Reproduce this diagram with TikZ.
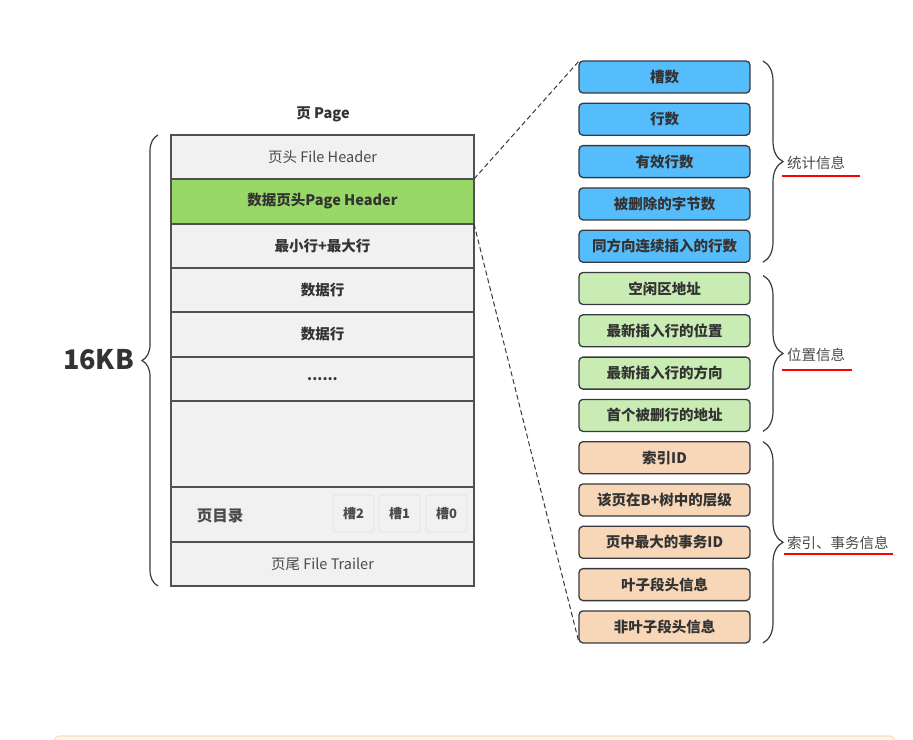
\documentclass[tikz,border=0pt]{standalone}
\usepackage{fontspec}
\setmainfont{Noto Sans CJK SC}
\usetikzlibrary{decorations.pathreplacing}
\definecolor{rowfill}{HTML}{F1F1F1}
\definecolor{rowline}{HTML}{505050}
\definecolor{phgreen}{HTML}{97D866}
\definecolor{blueF}{HTML}{56BDFD}
\definecolor{greenF}{HTML}{C9EBB4}
\definecolor{orangeF}{HTML}{F8D6B8}
\definecolor{boxline}{HTML}{36393D}
\definecolor{txt}{HTML}{333333}
\definecolor{labtxt}{HTML}{4A4A4A}
\definecolor{slotline}{HTML}{E2E2E2}
\definecolor{noteF}{HTML}{FFF9F0}
\definecolor{noteL}{HTML}{FCDDB4}
\begin{document}
\begin{tikzpicture}[x=1pt,y=-1pt,
  row/.style={draw=rowline, fill=rowfill, line width=1.3pt, minimum width=303pt, inner sep=0pt, outer sep=0pt, text=txt, font=\fontsize{14.5}{16}\selectfont\bfseries},
  rowlight/.style={row, font=\fontsize{14.5}{16}\selectfont, text=labtxt},
  slotbox/.style={draw=slotline, fill=rowfill, line width=0.8pt, rounded corners=3pt, minimum width=41pt, minimum height=37pt, inner sep=0pt, text=labtxt, font=\fontsize{13}{15}\selectfont\bfseries},
  rbox/.style={draw=boxline, line width=1.3pt, rounded corners=4pt, minimum width=171pt, minimum height=32pt, inner sep=0pt, outer sep=0pt, text=txt, font=\fontsize{14.5}{16}\selectfont\bfseries},
  bracel/.style={decorate, decoration={brace, amplitude=16pt}, draw=boxline, line width=1.2pt},
  bracer/.style={decorate, decoration={brace, amplitude=20pt}, draw=boxline, line width=1.2pt},
  grouplab/.style={anchor=west, inner sep=0pt, text=labtxt, font=\fontsize{14.5}{16}\selectfont},
  uline/.style={draw=red, line width=1.4pt},
  dashline/.style={draw=boxline, line width=1pt, dash pattern=on 5pt off 3pt}
]
\useasboundingbox (0,0) rectangle (913,739);
\fill[white] (0,0) rectangle (913,739);

% bottom note box (partly visible)
\begin{scope}
\clip (0,0) rectangle (913,739);
\draw[fill=noteF, draw=noteL, line width=1.2pt, rounded corners=6pt] (54,736) rectangle (895,800);
\end{scope}

% title
\node[text=txt, font=\fontsize{14.5}{16}\selectfont\bfseries] (title) at (323,114) {页 Page};

% page rows
\node[rowlight, minimum height=44pt] (r1) at (322.5,157) {页头 File Header};
\node[row, fill=phgreen, minimum height=45pt] (r2) at (322.5,201.5) {数据页头Page Header};
\node[row, minimum height=44pt] (r3) at (322.5,246) {最小行+最大行};
\node[row, minimum height=44pt] (r4) at (322.5,290) {数据行};
\node[row, minimum height=45pt] (r5) at (322.5,334.5) {数据行};
\node[row, minimum height=44pt] (r6) at (322.5,379) {......};
\node[row, minimum height=86pt] (r7) at (322.5,444) {};
\node[row, minimum height=55pt] (r8) at (322.5,514.5) {};
\node[rowlight, minimum height=44pt] (r9) at (322.5,564) {页尾 File Trailer};

\node[text=labtxt, font=\fontsize{15.5}{17}\selectfont\bfseries] (dir) at (220,516) {页目录};
\node[slotbox] (s2) at (353.5,513.5) {槽2};
\node[slotbox] (s1) at (399.5,513.5) {槽1};
\node[slotbox] (s0) at (446.5,513.5) {槽0};

% left brace and size
\draw[bracel] ([xshift=-13pt]r9.south west) -- ([xshift=-13pt]r1.north west);
\node[anchor=east, text=txt, inner sep=0pt, font=\fontsize{27}{30}\selectfont\bfseries] (size) at (134,360) {16KB};

% right boxes
\foreach \t [count=\i from 0] in {槽数,行数,有效行数,被删除的字节数,同方向连续插入的行数}
  \node[rbox, fill=blueF] (b\i) at (664.5,{77+42.3*\i}) {\t};
\foreach \t [count=\i from 5] in {空闲区地址,最新插入行的位置,最新插入行的方向,首个被删行的地址}
  \node[rbox, fill=greenF] (b\i) at (664.5,{77+42.3*\i}) {\t};
\foreach \t [count=\i from 9] in {索引ID,该页在B+树中的层级,页中最大的事务ID,叶子段头信息,非叶子段头信息}
  \node[rbox, fill=orangeF] (b\i) at (664.5,{77+42.3*\i}) {\t};

% right braces
\draw[bracer] ([xshift=13pt]b0.north east) -- ([xshift=13pt]b4.south east);
\draw[bracer] ([xshift=13pt,yshift=-3pt]b5.north east) -- ([xshift=13pt]b8.south east);
\draw[bracer] ([xshift=13pt]b9.north east) -- ([xshift=13pt]b13.south east);

\node[grouplab] (g1) at (787,163) {统计信息};
\node[grouplab] (g2) at (787,355) {位置信息};
\node[grouplab] (g3) at (787,543) {索引、事务信息};
\draw[uline] (782,176) -- (860,176);
\draw[uline] (782,370) -- (852,370);
\draw[uline] (784,554) -- (893,554);

% dashed connectors
\draw[dashline] (r2.north east) -- (b0.north west);
\draw[dashline] (r2.south east) -- (b13.south west);
\end{tikzpicture}
\end{document}
